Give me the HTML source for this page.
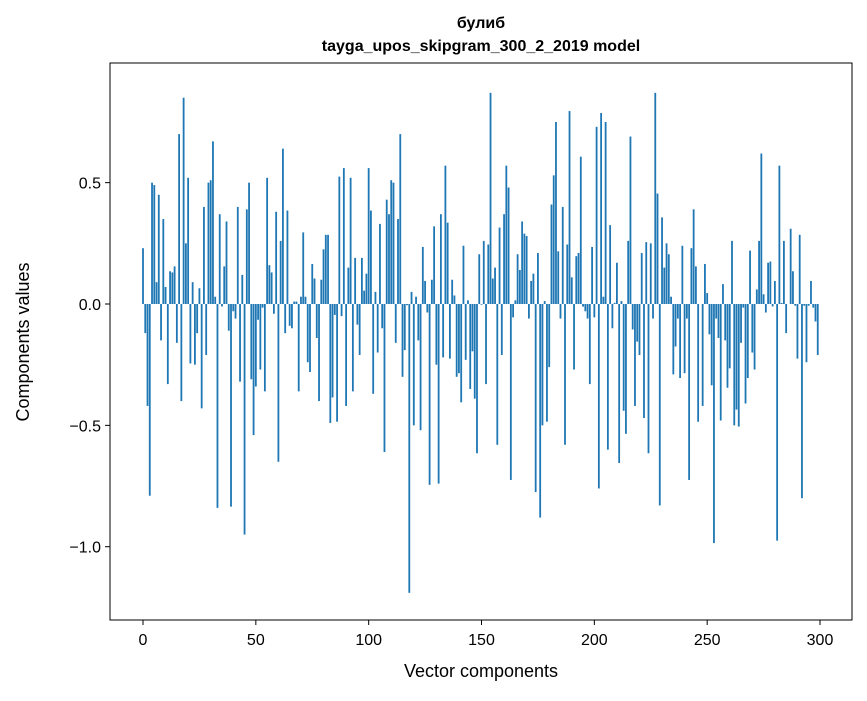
<!DOCTYPE html>
<html><head><meta charset="utf-8"><style>
body{margin:0;background:#fff;}
svg text{font-family:"Liberation Sans","DejaVu Sans",sans-serif;}
</style></head><body>
<svg id="chart" width="867" height="696" xmlns="http://www.w3.org/2000/svg">
<rect width="867" height="696" fill="#fff"/>
<text x="481" y="28" text-anchor="middle" font-size="16" font-weight="bold">булиб</text>
<text x="481" y="51" text-anchor="middle" font-size="16" font-weight="bold">tayga_upos_skipgram_300_2_2019 model</text>
<g id="bars"></g>
<rect x="110" y="63" width="742" height="557" fill="none" stroke="#000" stroke-width="1"/>
<g id="xticks"></g>
<g id="yticks"></g>
<text x="481" y="677" text-anchor="middle" font-size="18">Vector components</text>
<text transform="translate(29,342) rotate(-90)" text-anchor="middle" font-size="18">Components values</text>
</svg>
<script>
const values = [
0.23,-0.12,-0.42,-0.79,0.50,0.49,0.09,0.45,-0.15,0.35,
0.07,-0.33,0.135,0.13,0.155,-0.16,0.70,-0.40,0.85,0.25,
0.52,-0.245,0.09,-0.25,-0.12,0.065,-0.43,0.40,-0.21,0.50,
0.51,0.67,0.03,-0.84,0.37,-0.01,0.155,0.34,-0.11,-0.835,
-0.03,-0.06,0.40,-0.32,0.12,-0.95,0.39,0.50,-0.31,-0.54,
-0.34,-0.065,-0.27,-0.015,-0.36,0.52,0.16,0.13,-0.04,0.38,
-0.65,0.26,0.64,-0.12,0.385,-0.09,-0.10,0.01,0.01,-0.36,
0.03,0.295,0.03,-0.24,-0.28,0.165,0.105,-0.14,-0.40,0.10,
0.225,0.285,0.285,-0.49,-0.385,-0.045,-0.485,0.525,-0.05,0.56,
-0.42,0.15,0.52,-0.36,0.19,-0.085,-0.21,0.19,0.055,0.125,
0.56,0.385,-0.37,0.05,-0.20,0.33,-0.10,-0.61,0.43,0.37,
0.51,0.50,-0.16,0.35,0.70,-0.30,-0.19,-0.005,-1.19,0.05,
-0.50,0.03,-0.15,-0.52,0.235,0.095,-0.035,-0.745,0.10,0.32,
-0.25,-0.74,0.37,-0.22,0.57,0.335,-0.225,0.10,0.035,-0.30,
-0.285,-0.405,0.24,-0.23,0.015,-0.35,-0.195,-0.39,-0.615,0.205,
-0.003,0.26,-0.33,0.245,0.87,0.105,0.15,-0.58,0.315,-0.21,
0.37,0.57,0.48,-0.725,-0.055,0.015,0.205,0.14,0.34,0.29,
0.28,-0.06,0.095,0.125,-0.775,0.21,-0.88,-0.50,0.012,-0.485,
-0.26,0.41,0.53,0.75,0.217,-0.06,0.40,-0.58,0.245,0.795,
0.11,-0.27,0.197,0.21,0.607,-0.011,-0.03,-0.06,-0.33,0.235,
-0.055,0.73,-0.76,0.787,0.03,0.75,-0.60,0.325,-0.10,0.005,
0.17,-0.655,0.012,-0.44,-0.535,0.26,0.69,-0.105,-0.42,-0.155,
-0.21,0.21,-0.47,0.255,-0.615,0.25,-0.06,0.87,0.455,-0.83,
0.357,0.15,0.25,0.205,0.03,-0.29,-0.175,-0.06,-0.305,0.24,
-0.285,-0.06,-0.725,0.23,0.39,0.155,-0.485,0.0,-0.42,0.165,
0.045,-0.125,-0.335,-0.985,-0.06,-0.14,-0.48,0.082,-0.15,-0.345,
-0.265,0.26,-0.50,-0.435,-0.505,-0.16,-0.015,-0.41,-0.305,0.22,
-0.20,-0.27,0.06,0.26,0.62,0.04,-0.035,0.17,0.175,-0.01,
0.095,-0.975,0.57,0.004,0.26,-0.12,0.0,0.31,0.135,-0.007,
-0.225,0.285,-0.80,-0.007,-0.24,-0.007,0.095,-0.015,-0.072,-0.21
];
const xTicks = [0,50,100,150,200,250,300];
const yTicks = [0.5,0.0,-0.5,-1.0];
const yTickLabels = ["0.5","0.0","\u22120.5","\u22121.0"];
const NS = "http://www.w3.org/2000/svg";
function xs(v){return 143 + v*2.2567;}
function ys(v){return 304 - v*242.7;}
const bars = document.getElementById('bars');
values.forEach((v,i)=>{
  const r = document.createElementNS(NS,'rect');
  const w = 0.8*2.2567;
  r.setAttribute('x', xs(i)-w/2);
  r.setAttribute('width', w);
  r.setAttribute('y', Math.min(ys(v), ys(0)));
  r.setAttribute('height', Math.abs(ys(v)-ys(0)));
  r.setAttribute('fill', '#1f77b4');
  
  
  bars.appendChild(r);
});
const xg = document.getElementById('xticks');
xTicks.forEach(t=>{
  const l = document.createElementNS(NS,'line');
  l.setAttribute('x1', xs(t)); l.setAttribute('x2', xs(t));
  l.setAttribute('y1', 620); l.setAttribute('y2', 625);
  l.setAttribute('stroke', '#000');
  
  
  xg.appendChild(l);
  const tx = document.createElementNS(NS,'text');
  tx.setAttribute('x', xs(t)); tx.setAttribute('y', 645);
  tx.setAttribute('text-anchor', 'middle'); tx.setAttribute('font-size', '16');
  tx.textContent = t;
  
  
  xg.appendChild(tx);
});
const yg = document.getElementById('yticks');
yTicks.forEach((t,i)=>{
  const l = document.createElementNS(NS,'line');
  l.setAttribute('x1', 105); l.setAttribute('x2', 110);
  l.setAttribute('y1', ys(t)); l.setAttribute('y2', ys(t));
  l.setAttribute('stroke', '#000');
  
  
  yg.appendChild(l);
  const tx = document.createElementNS(NS,'text');
  tx.setAttribute('x', 101); tx.setAttribute('y', ys(t)+6);
  tx.setAttribute('text-anchor', 'end'); tx.setAttribute('font-size', '16');
  tx.textContent = yTickLabels[i];
  
  
  yg.appendChild(tx);
});
</script>
</body></html>
